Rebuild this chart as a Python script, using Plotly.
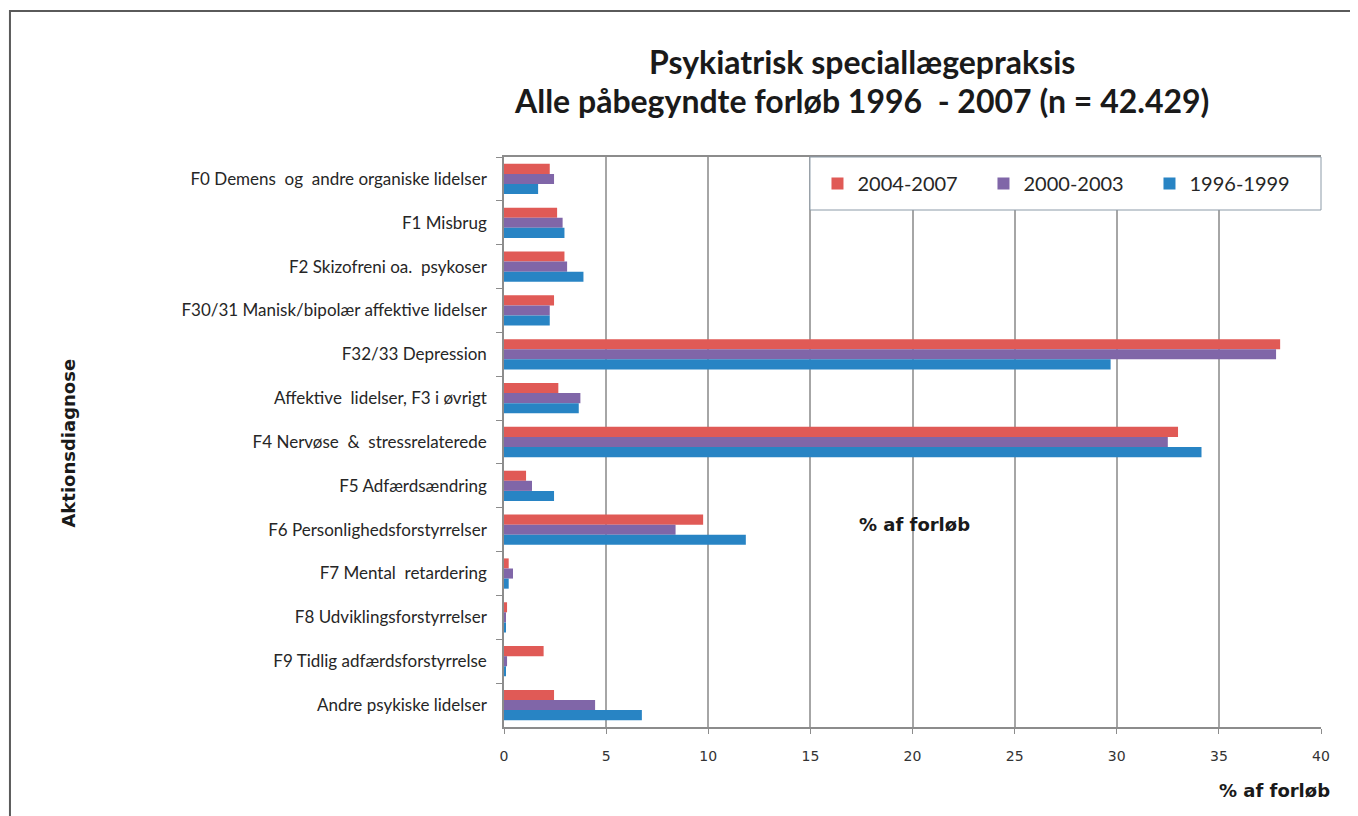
import plotly.graph_objects as go

categories = [
    "F0 Demens  og  andre organiske lidelser",
    "F1 Misbrug",
    "F2 Skizofreni oa.  psykoser",
    "F30/31 Manisk/bipolær affektive lidelser",
    "F32/33 Depression",
    "Affektive  lidelser, F3 i øvrigt",
    "F4 Nervøse  &  stressrelaterede",
    "F5 Adfærdsændring",
    "F6 Personlighedsforstyrrelser",
    "F7 Mental  retardering",
    "F8 Udviklingsforstyrrelser",
    "F9 Tidlig adfærdsforstyrrelse",
    "Andre psykiske lidelser",
]
periods = ["2004-2007", "2000-2003", "1996-1999"]
vals_2004_2007 = [2.24, 2.6, 2.96, 2.45, 38.0, 2.66, 33.0, 1.08, 9.75, 0.23, 0.15, 1.94, 2.45]
vals_2000_2003 = [2.45, 2.87, 3.09, 2.24, 37.8, 3.74, 32.5, 1.37, 8.4, 0.44, 0.08, 0.15, 4.46]
vals_1996_1999 = [1.67, 2.96, 3.89, 2.24, 29.7, 3.66, 34.15, 2.45, 11.84, 0.23, 0.08, 0.08, 6.75]
colors = ["#E05A56", "#8066A8", "#2884C4"]
x_ticks = [0, 5, 10, 15, 20, 25, 30, 35, 40]

fig = go.Figure()
for name, vals, col in zip(periods, [vals_2004_2007, vals_2000_2003, vals_1996_1999], colors):
    fig.add_trace(go.Bar(
        y=categories,
        x=vals,
        name=name,
        orientation='h',
        marker=dict(color=col, line=dict(width=0)),
    ))

# legend box (drawn as shape so it covers gridlines)
fig.add_shape(type="rect", xref="paper", yref="paper",
              x0=0.3745, x1=1.0, y0=0.907, y1=1.0,
              fillcolor="white", line=dict(color="#8C9BA8", width=1), layer="above")
# outer frame
fig.add_shape(type="rect", xref="paper", yref="paper",
              x0=-0.6047, x1=1.07, y0=-0.22, y1=1.2561,
              line=dict(color="#5A5A5A", width=2))

title_font = dict(family="Lato", size=32, color="#1A1A1A")
fig.add_annotation(text="<b>Psykiatrisk speciallægepraksis</b>", xref="paper", yref="paper",
                   x=0.438, y=1.205, showarrow=False, font=title_font)
fig.add_annotation(text="<b>Alle påbegyndte forløb 1996  - 2007 (n = 42.429)</b>", xref="paper", yref="paper",
                   x=0.438, y=1.137, showarrow=False, font=title_font)
fig.add_annotation(text="<b>Aktionsdiagnose</b>", xref="paper", yref="paper",
                   x=-0.5484, y=0.498, textangle=-90, showarrow=False,
                   font=dict(family="DejaVu Sans", size=18, color="#1A1A1A"))
fig.add_annotation(text="<b>% af forløb</b>", xref="paper", yref="paper",
                   x=0.503, y=0.356, showarrow=False,
                   font=dict(family="DejaVu Sans", size=18, color="#1A1A1A"))
fig.add_annotation(text="<b>% af forløb</b>", xref="paper", yref="paper",
                   x=1.0135, xanchor="right", y=-0.1333, showarrow=False,
                   font=dict(family="DejaVu Sans", size=18, color="#1A1A1A"))

fig.update_layout(
    width=1358,
    height=816,
    margin=dict(l=496, r=45, t=149, b=97),
    paper_bgcolor="white",
    plot_bgcolor="white",
    barmode="group",
    bargap=0.31,
    bargroupgap=0,
    showlegend=True,
    legend=dict(
        orientation="h",
        x=0.3837, xanchor="left",
        y=0.9535, yanchor="middle",
        font=dict(family="Lato", size=20, color="#262626"),
        entrywidth=121,
        itemwidth=30,
        bgcolor="rgba(0,0,0,0)",
        borderwidth=0,
    ),
    xaxis=dict(
        range=[0, 40],
        tickvals=x_ticks,
        showgrid=True,
        gridcolor="#A6A6A6",
        gridwidth=1.5,
        showline=True,
        linecolor="#8C8C8C",
        linewidth=1.5,
        mirror=True,
        ticks="outside",
        ticklen=5,
        tickcolor="#8C8C8C",
        ticklabelstandoff=10,
        tickfont=dict(family="DejaVu Sans", size=14, color="#333333"),
        zeroline=False,
    ),
    yaxis=dict(
        autorange="reversed",
        showline=True,
        linecolor="#8C8C8C",
        linewidth=1.5,
        ticks="outside",
        tickson="boundaries",
        ticklen=6,
        tickcolor="#8C8C8C",
        ticklabelstandoff=12,
        tickfont=dict(family="Lato", size=17, color="#262626"),
        showgrid=False,
    ),
)

fig.write_html("out.html")
